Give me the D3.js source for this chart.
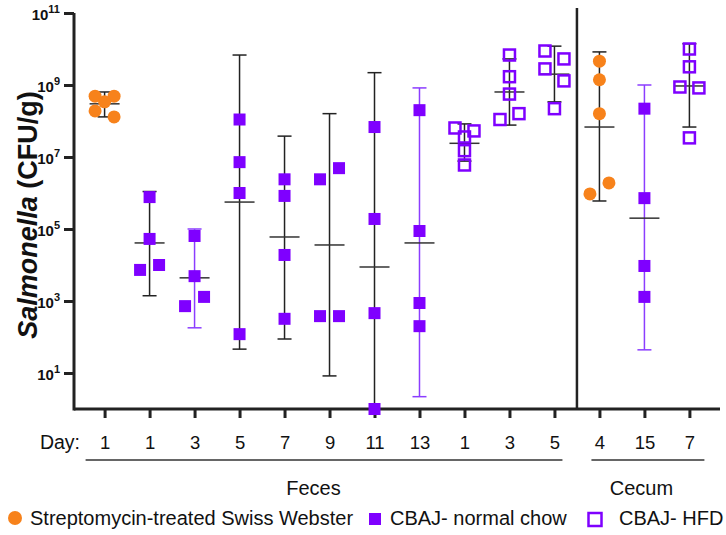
<!DOCTYPE html>
<html>
<head>
<meta charset="utf-8">
<script src="https://cdn.jsdelivr.net/npm/d3@7"></script>
<style>
body { margin: 0; background: #fff; }
text { font-family: "Liberation Sans", Arial, sans-serif; }
</style>
</head>
<body>
<script>
// Categories (one per column, left to right)
const days = ['1', '1', '3', '5', '7', '9', '11', '13', '1', '3', '5', '4', '15', '7']
const groupType = ['strep', 'normal', 'normal', 'normal', 'normal', 'normal', 'normal', 'normal',
    'hfd', 'hfd', 'hfd', 'strep', 'normal', 'hfd']

// Individual CFU/g values per column
const values = [
    [4.9e8, 4.9e8, 3.4e8, 1.9e8, 1.3e8],
    [7.7e5, 5.3e4, 1.0e4, 7.3e3],
    [6.4e4, 4.9e3, 1.3e3, 7.2e2],
    [1.1e8, 7.2e6, 1.0e6, 1.2e2],
    [2.4e6, 8.3e5, 1.9e4, 3.2e2],
    [4.9e6, 2.4e6, 3.8e2, 3.8e2],
    [6.8e7, 1.9e5, 4.6e2, 1],
    [2.0e8, 8.8e4, 8.8e2, 2.0e2],
    [6.4e7, 5.3e7, 3.6e7, 1.5e7, 6.0e6],
    [6.8e9, 1.7e9, 5.6e8, 1.6e8, 1.1e8],
    [8.8e9, 5.3e9, 2.8e9, 1.3e9, 2.2e8],
    [4.6e9, 1.4e9, 1.6e8, 1.9e6, 9.4e5],
    [2.2e8, 7.2e5, 9.4e3, 1.3e3],
    [1.0e10, 3.2e9, 8.8e8, 8.3e8, 3.4e7]
]

// Geometric mean and error bar ends per column
const means = [3.0e8, 4.1e4, 4.4e3, 5.6e5, 6.0e4, 3.6e4, 8.8e3, 4.1e4, 2.4e7, 6.4e8, 2.0e9, 6.8e7, 2.0e5, 9.4e8]
const lows = [1.3e8, 1.4e3, 1.8e2, 46, 88, 8.3, 0.5, 2.2, 7.7e6, 7.7e7, 3.4e8, 6.0e5, 44, 6.8e7]
const highs = [6.4e8, 1.1e6, 1.0e5, 6.8e9, 3.8e7, 1.6e8, 2.2e9, 8.3e8, 8.3e7, 5.3e9, 1.2e10, 8.3e9, 1.0e9, 1.4e10]

const yTicks = [1e1, 1e3, 1e5, 1e7, 1e9, 1e11]
const sections = [
    { name: 'Feces', from: 0, to: 10 },
    { name: 'Cecum', from: 11, to: 13 }
]
const legendItems = [
    { type: 'strep', label: 'Streptomycin-treated Swiss Webster' },
    { type: 'normal', label: 'CBAJ- normal chow' },
    { type: 'hfd', label: 'CBAJ- HFD' }
]

// Styles
const orange = '#f7821b'
const purple = '#7f00ff'
const barPurple = '#8b3dff'
const dark = '#222'
const purpleBars = new Set([2, 7, 12])

const width = 726
const height = 535
const plotLeft = 74, plotRight = 720, plotTop = 13, plotBottom = 409

const svg = d3.select('body').append('svg')
    .attr('width', width)
    .attr('height', height)

const x = d3.scalePoint()
    .domain(d3.range(days.length))
    .range([plotLeft, plotRight])
    .padding(0.68)

const y = d3.scaleLog()
    .domain([1, 1e11])
    .range([plotBottom, plotTop])
    .clamp(true)

// Y axis
const yAxis = svg.append('g')
    .attr('transform', `translate(${plotLeft},0)`)
    .call(d3.axisLeft(y).tickValues(yTicks).tickSize(10).tickSizeOuter(0).tickFormat(''))
yAxis.select('.domain').attr('stroke', dark).attr('stroke-width', 3)
    .attr('d', `M0,${plotBottom + 1.5}V${plotTop}`)
yAxis.selectAll('.tick line').attr('stroke', dark).attr('stroke-width', 3)
yAxis.selectAll('.tick text').remove()
yAxis.selectAll('.tick').append('text')
    .attr('x', -14)
    .attr('y', 6)
    .attr('text-anchor', 'end')
    .attr('fill', '#111')
    .style('font-weight', 'bold')
    .style('font-size', '15px')
    .each(function (d) {
        const t = d3.select(this)
        t.append('tspan').text('10')
        t.append('tspan').attr('dy', -7).style('font-size', '11px').text(Math.round(Math.log10(d)))
    })

svg.append('text')
    .attr('transform', `translate(37,${(plotTop + plotBottom) / 2 + 4}) rotate(-90)`)
    .attr('text-anchor', 'middle')
    .style('font-size', '27px')
    .style('font-weight', 'bold')
    .attr('fill', '#111')
    .call(t => {
        t.append('tspan').style('font-style', 'italic').text('Salmonella')
        t.append('tspan').text(' (CFU/g)')
    })

// X axis
const xAxis = svg.append('g')
    .attr('transform', `translate(0,${plotBottom})`)
    .call(d3.axisBottom(x).tickSize(9).tickSizeOuter(0).tickFormat(i => days[i]))
xAxis.select('.domain').attr('stroke', dark).attr('stroke-width', 3)
    .attr('d', `M${plotLeft},0H${plotRight}`)
xAxis.selectAll('.tick line').attr('stroke', dark).attr('stroke-width', 3)
xAxis.selectAll('.tick text')
    .attr('y', 40)
    .attr('dy', 0)
    .attr('fill', '#111')
    .style('font-size', '18.5px')

svg.append('text')
    .attr('x', 80)
    .attr('y', plotBottom + 40)
    .attr('text-anchor', 'end')
    .attr('fill', '#111')
    .style('font-size', '19.5px')
    .text('Day:')

// Section underlines and labels
const padL = { Feces: 19, Cecum: 8 }
const padR = { Feces: 8, Cecum: 15 }
const labelShift = { Feces: -16, Cecum: -3 }
sections.forEach(s => {
    const x0 = x(s.from) - padL[s.name]
    const x1 = x(s.to) + padR[s.name]
    svg.append('line')
        .attr('x1', x0).attr('x2', x1)
        .attr('y1', plotBottom + 51).attr('y2', plotBottom + 51)
        .attr('stroke', '#333').attr('stroke-width', 1.5)
    svg.append('text')
        .attr('x', (x(s.from) + x(s.to)) / 2 + labelShift[s.name])
        .attr('y', plotBottom + 86)
        .attr('text-anchor', 'middle')
        .attr('fill', '#111')
        .style('font-size', '20px')
        .text(s.name)
})

// Divider between feces and cecum
const divX = (x(10) + x(11)) / 2
svg.append('line')
    .attr('x1', divX).attr('x2', divX)
    .attr('y1', 8).attr('y2', plotBottom)
    .attr('stroke', dark).attr('stroke-width', 2.5)

// Error bars
const bars = svg.append('g')
means.forEach((m, i) => {
    const cx = x(i)
    const col = purpleBars.has(i) ? barPurple : dark
    bars.append('line')
        .attr('x1', cx).attr('x2', cx)
        .attr('y1', y(highs[i])).attr('y2', y(lows[i]))
        .attr('stroke', col).attr('stroke-width', 1.5)
    bars.append('line')
        .attr('x1', cx - 7).attr('x2', cx + 7)
        .attr('y1', y(highs[i])).attr('y2', y(highs[i]))
        .attr('stroke', col).attr('stroke-width', 1.5)
    if (lows[i] >= 1) {
        bars.append('line')
            .attr('x1', cx - 7).attr('x2', cx + 7)
            .attr('y1', y(lows[i])).attr('y2', y(lows[i]))
            .attr('stroke', col).attr('stroke-width', 1.5)
    }
    bars.append('line')
        .attr('x1', cx - 15).attr('x2', cx + 15)
        .attr('y1', y(m)).attr('y2', y(m))
        .attr('stroke', '#333').attr('stroke-width', 1.5)
})

// Spread overlapping points sideways
const d = 9.5, s = 12
function dodge(vals) {
    const pts = vals.map(v => ({ v, py: y(v), dx: 0 })).sort((a, b) => a.py - b.py)
    const clusters = []
    pts.forEach((p, k) => {
        if (k > 0 && p.py - pts[k - 1].py < s) clusters[clusters.length - 1].push(p)
        else clusters.push([p])
    })
    clusters.forEach(c => {
        if (c.length === 2) {
            c[0].dx = c[1].py - c[0].py < 2 ? -d : d
            c[1].dx = -c[0].dx
        } else if (c.length > 2) {
            const placed = []
            c.forEach(p => {
                const opts = [-d, d, 0, -2 * d, 2 * d]
                p.dx = opts.find(o => placed.every(q => Math.abs(q.py - p.py) >= s || Math.abs(q.dx - o) >= d - 0.1))
                placed.push(p)
            })
        }
    })
    return pts
}

function drawMarker(g, type, cx, cy) {
    if (type === 'strep') {
        g.append('circle').attr('cx', cx).attr('cy', cy).attr('r', 6.5).attr('fill', orange)
    } else if (type === 'normal') {
        g.append('rect').attr('x', cx - 6).attr('y', cy - 6).attr('width', 12).attr('height', 12).attr('fill', purple)
    } else {
        g.append('rect').attr('x', cx - 5.5).attr('y', cy - 5.5).attr('width', 11).attr('height', 11)
            .attr('fill', 'none').attr('stroke', purple).attr('stroke-width', 2.5)
    }
}

const points = svg.append('g')
values.forEach((vals, i) => {
    dodge(vals).forEach(p => drawMarker(points, groupType[i], x(i) + p.dx, p.py))
})

// Legend
const legendX = [15, 375, 595]
const textX = [30, 390, 619]
const legend = svg.append('g')
legendItems.forEach((item, k) => {
    if (item.type === 'strep') {
        legend.append('circle').attr('cx', legendX[k]).attr('cy', 518).attr('r', 7).attr('fill', orange)
    } else if (item.type === 'normal') {
        legend.append('rect').attr('x', legendX[k] - 6).attr('y', 513).attr('width', 12).attr('height', 12).attr('fill', purple)
    } else {
        legend.append('rect').attr('x', legendX[k] - 6.5).attr('y', 513).attr('width', 13).attr('height', 13)
            .attr('fill', 'none').attr('stroke', purple).attr('stroke-width', 2.5)
    }
    legend.append('text')
        .attr('x', textX[k])
        .attr('y', 525)
        .attr('fill', '#111')
        .style('font-size', '20px')
        .text(item.label)
})
</script>
</body>
</html>
